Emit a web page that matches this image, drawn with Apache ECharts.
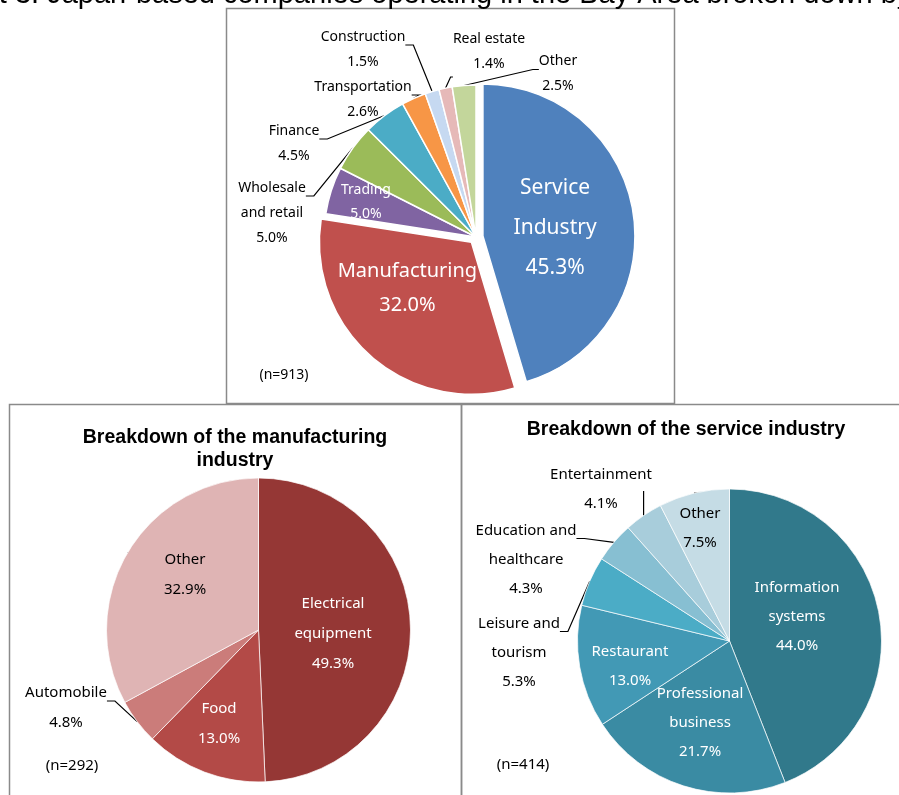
<!DOCTYPE html>
<html>
<head>
<meta charset="utf-8">
<script src="https://cdn.jsdelivr.net/npm/echarts@6/dist/echarts.min.js"></script>
<style>
  html, body { margin: 0; padding: 0; background: #fff; }
  #chart { width: 899px; height: 795px; }
</style>
</head>
<body>
<div id="chart"></div>
<script>
// ---- data ----
const mainTitle = 'Chart 3: Japan-based companies operating in the Bay Area broken down by industry'
const subTitles = ['Breakdown of the manufacturing\nindustry', 'Breakdown of the service industry']
const sampleSizes = [913, 292, 414]

const allNames = ['Service\nIndustry', 'Manufacturing', 'Trading', 'Wholesale\nand retail', 'Finance',
  'Transportation', 'Construction', 'Real estate', 'Other']
const allValues = [45.3, 32.0, 5.0, 5.0, 4.5, 2.6, 1.5, 1.4, 2.5]

const mfgNames = ['Electrical\nequipment', 'Food', 'Automobile', 'Other']
const mfgValues = [49.3, 13.0, 4.8, 32.9]

const svcNames = ['Information\nsystems', 'Professional\nbusiness', 'Restaurant', 'Leisure and\ntourism',
  'Education and\nhealthcare', 'Entertainment', 'Other']
const svcValues = [44.0, 21.7, 13.0, 5.3, 4.3, 4.1, 7.5]

// ---- styles ----
const allColors = ['#4F81BD', '#C0504D', '#8064A2', '#9BBB59', '#4BACC6', '#F79646', '#C6D9F1', '#E6B9B8', '#C3D69B']
const mfgColors = ['#953735', '#B34A47', '#CB7C7A', '#DFB4B4']
const svcColors = ['#31798B', '#3A8BA3', '#4299B5', '#4BACC6', '#87BFD2', '#A8CDDB', '#C5DCE5']

const labelFont = 'Noto Sans'

// inner (white) label styles, by data index
// (exploded slices keep the library's own inner position, nudged with padding / a spacer line)
const allInner = {
  0: { fontSize: 21, lineHeight: 40, padding: [0, 12, 0, 0], gapTop: 6 },
  1: { fontSize: 20, lineHeight: 34, padding: [0, 24, 0, 0], gapBottom: 26 },
  2: { fontSize: 14, lineHeight: 24 }
}
const mfgInner = { 0: {}, 1: {} }
const svcInner = { 0: {}, 1: {}, 2: {} }

// label placement (centre of text block) and leader style, by data index
const allLabelPos = [
  null, null, { x: 366, y: 202 },
  { x: 272, y: 213, lead: 'left' }, { x: 294, y: 143.5, lead: 'left' },
  { x: 363, y: 99.5, lead: 'left' }, { x: 363, y: 49.5, lead: 'left' },
  { x: 489, y: 52, lead: 'rightBottom' }, { x: 558, y: 74, lead: 'right' }
]
const mfgLabelPos = [
  { x: 333, y: 634 }, { x: 219, y: 724 }, { x: 66, y: 708, lead: 'left' }, { x: 185, y: 575 }
]
const svcLabelPos = [
  { x: 797, y: 617 }, { x: 700, y: 723 }, { x: 630, y: 666 },
  { x: 519, y: 652.5, lead: 'left' }, { x: 526, y: 559.5, lead: 'left' },
  { x: 601, y: 489, lead: 'up' }, { x: 700, y: 528 }
]

function pct(p) {
  return p.name + '\n' + p.value.toFixed(1) + '%'
}

function buildData(names, values, colors, inner, selected) {
  return names.map((n, i) => {
    const d = { name: n, value: values[i], itemStyle: { color: colors[i] } }
    const s = inner[i]
    if (s) {
      d.label = { position: 'inside', color: '#fff' }
      if (s.fontSize) d.label.fontSize = s.fontSize
      if (s.lineHeight) d.label.lineHeight = s.lineHeight
      if (s.padding) d.label.padding = s.padding
      if (s.gapTop || s.gapBottom) {
        d.label.rich = { g: { fontSize: 1, lineHeight: s.gapTop || s.gapBottom } }
        d.label.formatter = s.gapTop
          ? p => '{g| }\n' + pct(p)
          : p => pct(p) + '\n{g| }'
      }
      d.labelLine = { show: false }
    }
    if (selected && selected.indexOf(i) >= 0) d.selected = true
    return d
  })
}

function makeLayout(pos, lh) {
  return function (p) {
    const c = pos[p.dataIndex]
    if (!c) return {}
    const out = { x: c.x, y: c.y, align: 'center', verticalAlign: 'middle' }
    if (c.lead && p.labelLinePoints) {
      const w = p.labelRect.width
      const h = p.labelRect.height
      const left = c.x - w / 2
      const right = c.x + w / 2
      const top = c.y - h / 2
      const bottom = c.y + h / 2
      const edge = p.labelLinePoints[0]
      const y1 = top + lh / 2 + 8
      if (c.lead === 'left') out.labelLinePoints = [edge, [right + 8, y1], [right, y1]]
      else if (c.lead === 'right') out.labelLinePoints = [edge, [left - 6, y1], [left, y1]]
      else if (c.lead === 'rightBottom') out.labelLinePoints = [edge, [edge[0] + 5, bottom], [left, bottom]]
      else if (c.lead === 'up') out.labelLinePoints = [edge, [edge[0], c.y + 2]]
    }
    return out
  }
}

function pieSeries(data, center, radius, fontSize, lineHeight, pos, border) {
  return {
    type: 'pie',
    center: center,
    radius: radius,
    startAngle: 90,
    clockwise: true,
    silent: true,
    avoidLabelOverlap: false,
    itemStyle: { borderColor: '#fff', borderWidth: border },
    label: {
      show: true,
      position: 'outside',
      formatter: pct,
      color: '#000',
      fontFamily: labelFont,
      fontSize: fontSize,
      lineHeight: lineHeight,
      align: 'center'
    },
    labelLine: { show: true, length: 10, length2: 10, lineStyle: { color: '#000', width: 1.2 } },
    labelLayout: makeLayout(pos, lineHeight),
    emphasis: { disabled: true },
    data: data
  }
}

const myChart = echarts.init(document.getElementById('chart'))

const topSeries = pieSeries(buildData(allNames, allValues, allColors, allInner, [0, 1]),
  [476, 237], 152, 14, 25, allLabelPos, 1.5)
topSeries.selectedMode = 'multiple'
topSeries.selectedOffset = 7

const mfgSeries = pieSeries(buildData(mfgNames, mfgValues, mfgColors, mfgInner),
  [258.5, 630], 152, 15, 30, mfgLabelPos, 0.7)
const svcSeries = pieSeries(buildData(svcNames, svcValues, svcColors, svcInner),
  [729.5, 641], 152, 15, 29, svcLabelPos, 0.7)

const boxStyle = { fill: 'none', stroke: '#8a8a8a', lineWidth: 1.5 }

const option = {
  animation: false,
  backgroundColor: '#fff',
  graphic: [
    { type: 'rect', shape: { x: 226.5, y: 8.5, width: 448, height: 395 }, style: boxStyle },
    { type: 'rect', shape: { x: 9.5, y: 404.5, width: 452, height: 420 }, style: boxStyle },
    { type: 'rect', shape: { x: 461.5, y: 404.5, width: 460, height: 420 }, style: boxStyle },
    { type: 'text', x: -64, y: -5.5, style: { text: mainTitle, font: '29px Arial', fill: '#000', align: 'left', verticalAlign: 'middle' } },
    { type: 'text', x: 235, y: 449, style: { text: subTitles[0], font: 'bold 19.5px Arial', lineHeight: 23, fill: '#000', align: 'center', verticalAlign: 'middle' } },
    { type: 'text', x: 686, y: 430, style: { text: subTitles[1], font: 'bold 19.5px Arial', fill: '#000', align: 'center', verticalAlign: 'middle' } },
    { type: 'text', x: 284, y: 375, style: { text: '(n=' + sampleSizes[0] + ')', font: '14px "Noto Sans"', fill: '#000', align: 'center', verticalAlign: 'middle' } },
    { type: 'text', x: 72, y: 766, style: { text: '(n=' + sampleSizes[1] + ')', font: '15px "Noto Sans"', fill: '#000', align: 'center', verticalAlign: 'middle' } },
    { type: 'text', x: 523, y: 765, style: { text: '(n=' + sampleSizes[2] + ')', font: '15px "Noto Sans"', fill: '#000', align: 'center', verticalAlign: 'middle' } }
  ],
  series: [topSeries, mfgSeries, svcSeries]
}

myChart.setOption(option)
</script>
</body>
</html>
